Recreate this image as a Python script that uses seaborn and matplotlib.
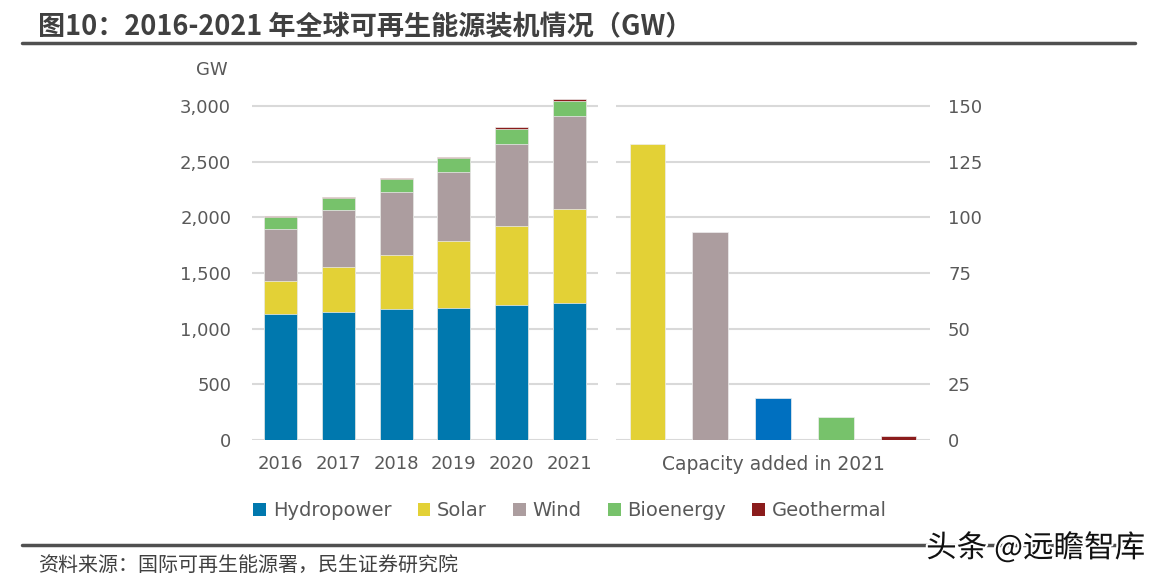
import numpy as np
import pandas as pd
import seaborn as sns
import matplotlib.pyplot as plt
import matplotlib.patheffects as pe
from matplotlib.patches import Patch
from matplotlib.lines import Line2D
from matplotlib.ticker import FuncFormatter

# Installed capacity by source (GW)
years = ['2016', '2017', '2018', '2019', '2020', '2021']
hydropower = [1128, 1149, 1173, 1188, 1212, 1230]
solar = [303, 401, 484, 595, 714, 848]
wind = [467, 512, 569, 623, 735, 831]
bioenergy = [104, 108, 117, 126, 131, 140]
geothermal = [14, 15, 14, 14, 16, 16]

# Capacity added in 2021 (GW)
added_sources = ['Solar', 'Wind', 'Hydropower', 'Bioenergy', 'Geothermal']
added_2021 = [132.8, 93.3, 18.7, 10.2, 1.6]

sources = ['Hydropower', 'Solar', 'Wind', 'Bioenergy', 'Geothermal']
colors = {'Hydropower': '#0078AE', 'Solar': '#E3D136', 'Wind': '#AC9D9F',
          'Bioenergy': '#77C26B', 'Geothermal': '#8B1C1C'}
added_colors = ['#E3D136', '#AC9D9F', '#0070C0', '#77C26B', '#8B1C1C']

sns.set_style('white')
plt.rcParams['font.family'] = ['DejaVu Sans', 'Noto Sans CJK SC']
tick_color = '#595959'
grid_color = '#D9D9D9'
fs = 13

df = pd.DataFrame({'year': years, 'Hydropower': hydropower, 'Solar': solar,
                   'Wind': wind, 'Bioenergy': bioenergy, 'Geothermal': geothermal})
cum = df[sources].cumsum(axis=1)

fig = plt.figure(figsize=(11.53, 5.83), dpi=100)
W, H = 1153, 583
ax1 = fig.add_axes([252 / W, (H - 440) / H, 346 / W, 347.4 / H])
ax2 = fig.add_axes([616 / W, (H - 440) / H, 314 / W, 347.4 / H])

# stacked bars: draw cumulative totals top layer first
for src in sources[::-1]:
    sns.barplot(x=df['year'], y=cum[src], color=colors[src], width=0.57,
                edgecolor='#eeeeee', linewidth=0.5, saturation=1, ax=ax1)

ax1.set_ylim(0, 3120)
ax1.set_xlim(-0.5, 5.5)
ax1.set_yticks(range(0, 3001, 500))
ax1.yaxis.set_major_formatter(FuncFormatter(lambda v, p: f'{int(v):,}'))
ax1.set_xlabel('')
ax1.set_ylabel('')

added_df = pd.DataFrame({'source': added_sources, 'gw': added_2021})
sns.barplot(data=added_df, x='source', y='gw', hue='source', palette=added_colors,
            width=0.57, dodge=False, legend=False, edgecolor='#eeeeee',
            linewidth=0.5, saturation=1, ax=ax2)
ax2.set_ylim(0, 156)
ax2.set_xlim(-0.5, 4.5)
ax2.set_yticks(range(0, 151, 25))
ax2.yaxis.tick_right()
ax2.set_xticks([2])
ax2.set_xticklabels(['Capacity added in 2021'], fontsize=13.5)
ax2.set_xlabel('')
ax2.set_ylabel('')

for ax in (ax1, ax2):
    ax.set_axisbelow(True)
    ax.grid(axis='y', color=grid_color, linewidth=1.5)
    ax.grid(axis='x', visible=False)
    for s in ax.spines.values():
        s.set_visible(False)
    ax.tick_params(axis='both', length=0, labelsize=fs, labelcolor=tick_color)
    ax.tick_params(axis='x', pad=11)
ax1.tick_params(axis='y', pad=15)
ax2.tick_params(axis='y', pad=13)
ax2.tick_params(axis='x', labelsize=13.5)

fig.text(212 / W, 1 - 70 / H, 'GW', ha='center', va='center', fontsize=fs, color=tick_color)

# legend
handles = [Patch(facecolor=colors[s], edgecolor='none') for s in sources]
fig.legend(handles, sources, loc='center', bbox_to_anchor=(0.4945, 1 - 511 / H),
           ncol=5, frameon=False, handlelength=0.65, handleheight=0.65,
           handletextpad=0.35, columnspacing=1.35, fontsize=14, labelcolor=tick_color)

# title, rules, source note
fig.text(38 / W, 1 - 27 / H, '图10：2016-2021 年全球可再生能源装机情况（GW）',
         ha='left', va='center', fontsize=19.5, fontweight='bold', color='#404040',
         family=['Noto Sans CJK SC', 'DejaVu Sans'])
fig.add_artist(Line2D([22 / W, 1135 / W], [1 - 43 / H] * 2, color='#505050', linewidth=2.5))
fig.add_artist(Line2D([22 / W, 1135 / W], [1 - 545 / H] * 2, color='#505050', linewidth=2.5))
fig.text(38 / W, 1 - 565 / H, '资料来源：国际可再生能源署，民生证券研究院',
         ha='left', va='center', fontsize=14.4, color='#404040',
         family=['Noto Sans CJK SC', 'DejaVu Sans'])
fig.text(1145 / W, 1 - 548 / H, '头条 @远瞻智库', ha='right', va='center', fontsize=22,
         color='#111111', family=['Noto Sans CJK SC', 'DejaVu Sans'],
         path_effects=[pe.withStroke(linewidth=3, foreground='white')])

fig.savefig('out.png', dpi=100)
